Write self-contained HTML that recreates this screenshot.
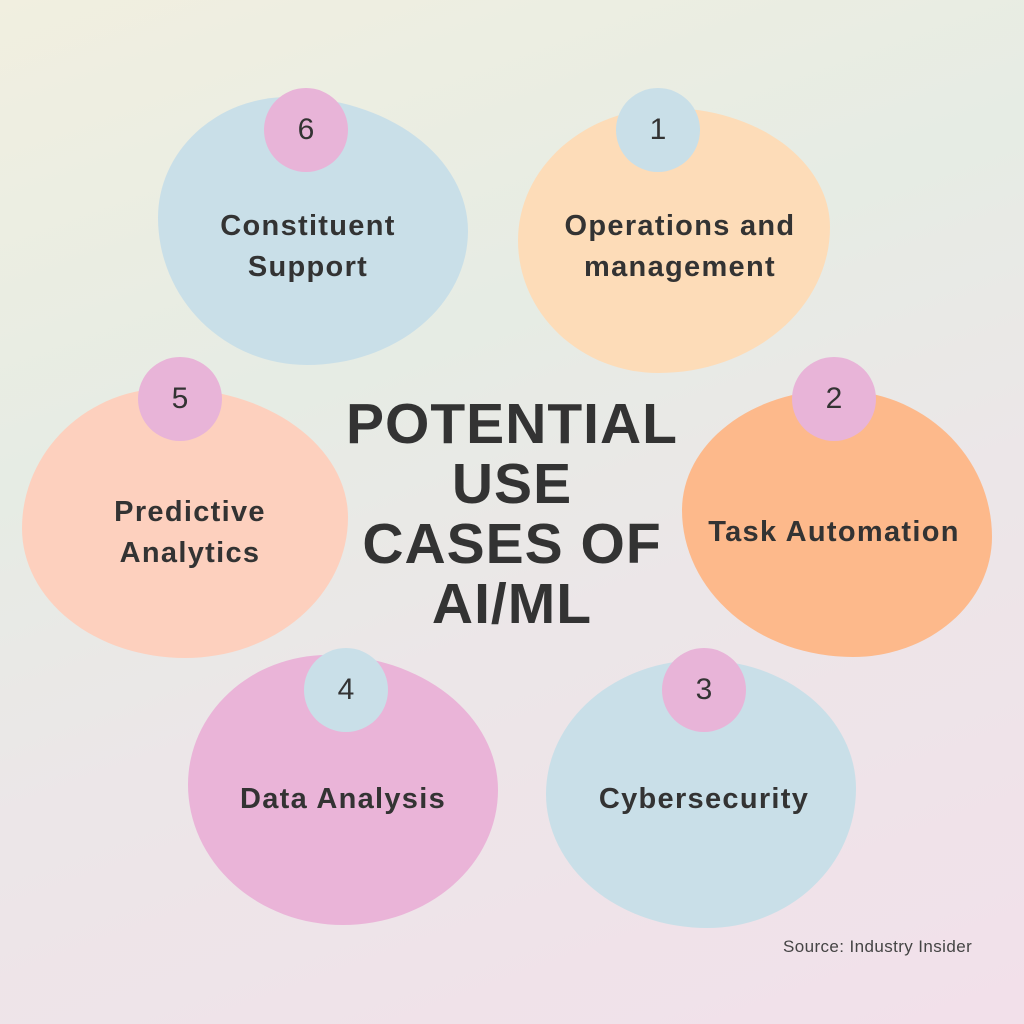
<!DOCTYPE html>
<html><head><meta charset="utf-8"><style>
html,body{margin:0;padding:0}
body{width:1024px;height:1024px;position:relative;overflow:hidden;
background:linear-gradient(160deg,#f1efe0 0%,#e6ece4 35%,#ece6e8 60%,#f2e0ea 100%);
font-family:"Liberation Sans",sans-serif;color:#333}
.b{position:absolute}
.c{position:absolute;width:84px;height:84px;border-radius:50%;text-align:center;line-height:84px;font-size:30px;color:#333}
.t{position:absolute;text-align:center;font-weight:bold;font-size:29px;line-height:41px;color:#333;letter-spacing:1.3px}
.title{position:absolute;left:312px;width:400px;top:394px;text-align:center;font-weight:bold;font-size:57px;line-height:60px;color:#333;letter-spacing:1px}
.src{position:absolute;left:783px;top:937px;font-size:17px;color:#444;letter-spacing:0.4px}
</style></head><body>
<div class="b" style="left:158px;top:97px;width:310px;height:268px;background:#c9dfe8;border-radius:42% 58% 52% 48% / 45% 50% 50% 55%"></div>
<div class="b" style="left:518px;top:108px;width:312px;height:265px;background:#fddcb8;border-radius:48% 52% 55% 45% / 50% 45% 55% 50%"></div>
<div class="b" style="left:22px;top:388px;width:326px;height:270px;background:#fdd0be;border-radius:45% 55% 50% 50% / 52% 48% 52% 48%"></div>
<div class="b" style="left:682px;top:390px;width:310px;height:267px;background:#fdb98b;border-radius:50% 50% 45% 55% / 45% 55% 45% 55%"></div>
<div class="b" style="left:188px;top:655px;width:310px;height:270px;background:#eab4d8;border-radius:45% 55% 50% 50% / 48% 50% 50% 52%"></div>
<div class="b" style="left:546px;top:660px;width:310px;height:268px;background:#c9dfe8;border-radius:50% 50% 48% 52% / 50% 48% 52% 50%"></div>

<div class="c" style="left:264px;top:88px;background:#e8b4d8">6</div>
<div class="c" style="left:616px;top:88px;background:#c9dfe8">1</div>
<div class="c" style="left:138px;top:357px;background:#e8b4d8">5</div>
<div class="c" style="left:792px;top:357px;background:#e8b4d8">2</div>
<div class="c" style="left:304px;top:648px;background:#c9dfe8">4</div>
<div class="c" style="left:662px;top:648px;background:#e8b4d8">3</div>

<div class="t" style="left:108px;width:400px;top:206px">Constituent<br>Support</div>
<div class="t" style="left:480px;width:400px;top:206px">Operations and<br>management</div>
<div class="t" style="left:-10px;width:400px;top:492px">Predictive<br>Analytics</div>
<div class="t" style="left:634px;width:400px;top:512px">Task Automation</div>
<div class="t" style="left:143px;width:400px;top:779px">Data Analysis</div>
<div class="t" style="left:504px;width:400px;top:779px">Cybersecurity</div>

<div class="title">POTENTIAL<br>USE<br>CASES OF<br>AI/ML</div>
<div class="src">Source: Industry Insider</div>
</body></html>
